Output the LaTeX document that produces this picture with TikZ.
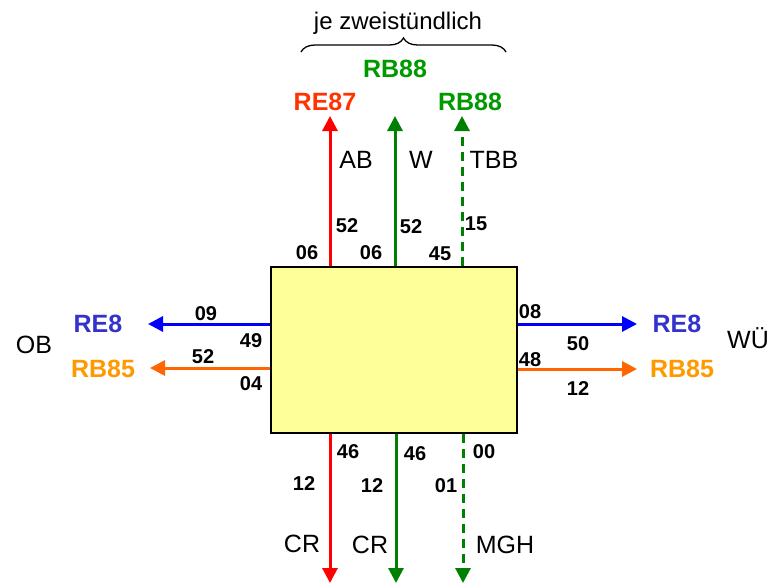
\documentclass[tikz,border=0pt]{standalone}
\usepackage{fontspec}
\setmainfont{Liberation Sans}
\usetikzlibrary{arrows.meta,decorations.pathreplacing}
\definecolor{boxfill}{HTML}{FFFF99}
\definecolor{cRed}{HTML}{FF0000}
\definecolor{cRedT}{HTML}{FF3300}
\definecolor{cGreen}{HTML}{008000}
\definecolor{cGreenT}{HTML}{009900}
\definecolor{cBlue}{HTML}{0000FF}
\definecolor{cBlueT}{HTML}{3333CC}
\definecolor{cOrange}{HTML}{FF6600}
\definecolor{cOrangeT}{HTML}{FF9900}
\tikzset{
  route/.style={line width=3pt,-{Triangle[width=15pt,length=15pt]}},
  dashroute/.style={route,dash pattern=on 9pt off 6pt},
  num/.style={anchor=base,inner sep=0pt,font=\fontsize{20}{24}\selectfont\bfseries},
  line/.style={anchor=base,inner sep=0pt,font=\fontsize{25}{30}\selectfont\bfseries},
  place/.style={anchor=base,inner sep=0pt,font=\fontsize{25}{30}\selectfont},
}
\begin{document}
\begin{tikzpicture}[x=1pt,y=-1pt]
\useasboundingbox (0,0) rectangle (776,584);
\node[draw,line width=1.5pt,fill=boxfill,minimum width=246pt,minimum height=166pt,inner sep=0pt] (box) at (394,350) {};

% top
\coordinate (tRE87) at (330,116);
\coordinate (tW) at (395,116);
\coordinate (tTBB) at (462,116);
\draw[route,cRed] (box.north -| tRE87) -- (tRE87);
\draw[route,cGreen] (box.north -| tW) -- (tW);
\draw[dashroute,cGreen] (box.north -| tTBB) -- (tTBB);

% bottom
\coordinate (bCR1) at (330,583);
\coordinate (bCR2) at (396,583);
\coordinate (bMGH) at (463,583);
\draw[route,cRed] (box.south -| bCR1) -- (bCR1);
\draw[route,cGreen] (box.south -| bCR2) -- (bCR2);
\draw[dashroute,cGreen] (box.south -| bMGH) -- (bMGH);

% left
\coordinate (lRE8) at (148,324);
\coordinate (lRB85) at (150,368);
\draw[route,cBlue] (box.west |- lRE8) -- (lRE8);
\draw[route,cOrange] (box.west |- lRB85) -- (lRB85);

% right
\coordinate (rRE8) at (637,324);
\coordinate (rRB85) at (637,369);
\draw[route,cBlue] (box.east |- rRE8) -- (rRE8);
\draw[route,cOrange] (box.east |- rRB85) -- (rRB85);

% brace
\draw[line width=1.3pt,decorate,decoration={brace,amplitude=14pt}] (301,52) coordinate (brL) -- (506,52) coordinate (brR);
\node[place,font=\fontsize{24}{28}\selectfont] (je) at (398,29) {je zweistündlich};

% line names
\node[line,text=cGreenT] (rb88a) at (395,77) {RB88};
\node[line,text=cRedT] (re87) at (325,110) {RE87};
\node[line,text=cGreenT] (rb88b) at (470,110) {RB88};
\node[line,text=cBlueT] (re8l) at (98,332) {RE8};
\node[line,text=cOrangeT] (rb85l) at (103,377) {RB85};
\node[line,text=cBlueT] (re8r) at (677,332) {RE8};
\node[line,text=cOrangeT] (rb85r) at (682,377) {RB85};

% places
\node[place] (ab) at (356,168) {AB};
\node[place] (w) at (421,168) {W};
\node[place] (tbb) at (494,168) {TBB};
\node[place] (ob) at (34,353) {OB};
\node[place] (wu) at (748,348) {WÜ};
\node[place] (cr1) at (302,552) {CR};
\node[place] (cr2) at (370,553) {CR};
\node[place] (mgh) at (505,553) {MGH};

% times top
\node[num] (n1) at (347,232) {52};
\node[num] (n2) at (411,233) {52};
\node[num] (n3) at (476,230) {15};
\node[num] (n4) at (307,259) {06};
\node[num] (n5) at (371,259) {06};
\node[num] (n6) at (440,260) {45};
% left
\node[num] (n7) at (206,320) {09};
\node[num] (n8) at (251,347) {49};
\node[num] (n9) at (203,363) {52};
\node[num] (n10) at (251,390) {04};
% right
\node[num] (n11) at (530,318) {08};
\node[num] (n12) at (578,350) {50};
\node[num] (n13) at (530,366) {48};
\node[num] (n14) at (578,395) {12};
% bottom
\node[num] (n15) at (348,458) {46};
\node[num] (n16) at (415,460) {46};
\node[num] (n17) at (484,458) {00};
\node[num] (n18) at (304,490) {12};
\node[num] (n19) at (372,492) {12};
\node[num] (n20) at (446,492) {01};
\end{tikzpicture}
\end{document}
